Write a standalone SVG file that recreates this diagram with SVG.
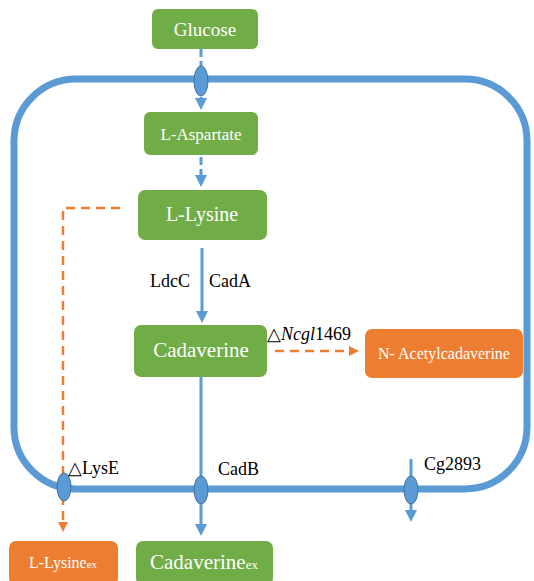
<svg xmlns="http://www.w3.org/2000/svg" width="534" height="581" viewBox="0 0 534 581" font-family="Liberation Serif, serif">
<defs>
<style>
text{font-family:'Liberation Serif',serif}
.green{fill:#70AD47}
.orange{fill:#ED7D31}
.wt{fill:#fff;text-anchor:middle}
.lbl{fill:#000;font-size:18px}
.blue{stroke:#5B9BD5;stroke-width:3;fill:none}
.bdash{stroke:#5B9BD5;stroke-width:3;fill:none;stroke-dasharray:8 4}
.odash{stroke:#ED7D31;stroke-width:2.5;fill:none;stroke-dasharray:9 6}
.ell{fill:#5B9BD5;stroke:#41719C;stroke-width:1}
</style>
<marker id="ab" markerWidth="4" markerHeight="4" refX="2" refY="2" orient="auto" markerUnits="strokeWidth"><path d="M0,0 L4,2 L0,4 Z" fill="#5B9BD5"/></marker>
<marker id="ao" markerWidth="4" markerHeight="4" refX="2" refY="2" orient="auto" markerUnits="strokeWidth"><path d="M0,0 L4,2 L0,4 Z" fill="#ED7D31"/></marker>
</defs>
<g id="membrane">
<rect x="14" y="79" width="513" height="410" rx="62" ry="62" fill="none" stroke="#5B9BD5" stroke-width="7"/>
</g>
<g id="connectors">
<path class="bdash" d="M201,49 V104" marker-end="url(#ab)"/>
<path class="bdash" d="M201,157 V181" marker-end="url(#ab)"/>
<path class="blue" d="M202,248 V317" marker-end="url(#ab)"/>
<path class="blue" d="M201,377 V530" marker-end="url(#ab)"/>
<path class="blue" d="M411,459 V516" marker-end="url(#ab)"/>
<path class="odash" d="M120,208 H63 V527" marker-end="url(#ao)"/>
<path class="odash" d="M275,351 H354" marker-end="url(#ao)"/>
</g>
<g id="transporters">
<ellipse class="ell" cx="201" cy="81" rx="7" ry="15"/>
<ellipse class="ell" cx="64" cy="487" rx="7" ry="14"/>
<ellipse class="ell" cx="201" cy="490" rx="7" ry="14"/>
<ellipse class="ell" cx="411" cy="490" rx="7" ry="14"/>
</g>
<g id="glucose"><rect class="green" x="152" y="9" width="106" height="40" rx="6"/><text class="wt" x="205" y="36" font-size="19">Glucose</text></g>
<g id="aspartate"><rect class="green" x="144" y="112" width="114" height="43" rx="6"/><text class="wt" x="201" y="140" font-size="17">L-Aspartate</text></g>
<g id="lysine"><rect class="green" x="138" y="190" width="129" height="50" rx="7"/><text class="wt" x="202" y="221" font-size="20">L-Lysine</text></g>
<g id="cadaverine"><rect class="green" x="134" y="325" width="133" height="52" rx="7"/><text class="wt" x="201" y="357" font-size="21">Cadaverine</text></g>
<g id="acetylcadaverine"><rect class="orange" x="365" y="329" width="158" height="49" rx="7"/><text class="wt" x="444" y="359" font-size="16">N- Acetylcadaverine</text></g>
<g id="lysine-ex"><rect class="orange" x="9" y="541" width="109" height="44" rx="7"/><text class="wt" x="63" y="568" font-size="16">L-Lysine<tspan font-size="11">ex</tspan></text></g>
<g id="cadaverine-ex"><rect class="green" x="136" y="541" width="137" height="44" rx="7"/><text class="wt" x="204" y="569" font-size="21">Cadaverine<tspan font-size="13">ex</tspan></text></g>
<g id="labels">
<text class="lbl" x="150" y="287">LdcC</text>
<text class="lbl" x="209" y="287">CadA</text>
<text class="lbl" x="267" y="340" font-size="19">△<tspan font-style="italic">Ncgl</tspan>1469</text>
<text class="lbl" x="68" y="474">△LysE</text>
<text class="lbl" x="218" y="475">CadB</text>
<text class="lbl" x="424" y="470">Cg2893</text>
</g>
</svg>
